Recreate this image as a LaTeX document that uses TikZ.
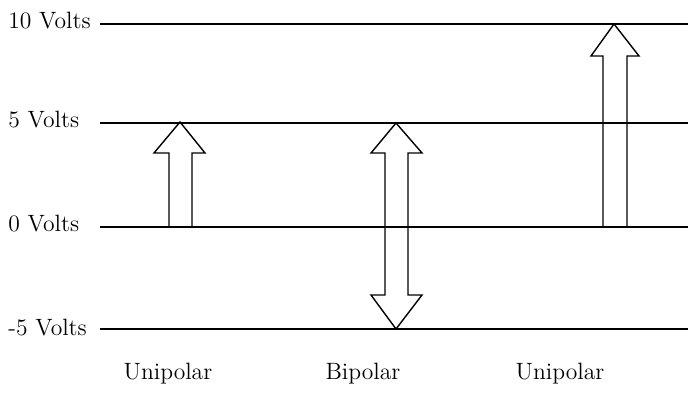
\documentclass[tikz,border=0pt]{standalone}
\begin{document}
\begin{tikzpicture}[x=0.5pt,y=-0.5pt,
  lvl/.style={line width=0.7pt},
  bigarrow/.style={line width=0.7pt,line join=miter},
  lab/.style={font=\fontsize{11.8}{14}\selectfont,inner sep=0pt}]
\useasboundingbox (0,0) rectangle (688,394);
% level labels
\node[lab,anchor=base west] (l10) at (8,29) {10 Volts};
\node[lab,anchor=base west] (l5) at (8,128) {5 Volts};
\node[lab,anchor=base west] (l0) at (8,232) {0 Volts};
\node[lab,anchor=base west] (lm5) at (8,335) {-5 Volts};
% level lines
\coordinate (a10) at (100,24); \coordinate (b10) at (688,24);
\coordinate (a5) at (100,123); \coordinate (b5) at (688,123);
\coordinate (a0) at (100,227); \coordinate (b0) at (688,227);
\coordinate (am5) at (100,329); \coordinate (bm5) at (688,329);
\draw[lvl] (a10) -- (b10);
\draw[lvl] (a5) -- (b5);
\draw[lvl] (a0) -- (b0);
\draw[lvl] (am5) -- (bm5);
% unipolar 0..5
\draw[bigarrow] (169,227) -- (169,153) -- (154,153) -- (180,122) -- (205,153) -- (192,153) -- (192,227);
% bipolar -5..5
\draw[bigarrow] (385,295) -- (385,153) -- (371,153) -- (396,123) -- (422,153) -- (408,153) -- (408,295) -- (422,295) -- (396,329) -- (371,295) -- cycle;
% unipolar 0..10
\draw[bigarrow] (603,227) -- (603,56) -- (591,56) -- (614,24) -- (639,56) -- (627,56) -- (627,227);
% bottom labels
\node[lab,anchor=base] (u1) at (168,379) {Unipolar};
\node[lab,anchor=base] (bp) at (363,379) {Bipolar};
\node[lab,anchor=base] (u2) at (560,379) {Unipolar};
\end{tikzpicture}
\end{document}
